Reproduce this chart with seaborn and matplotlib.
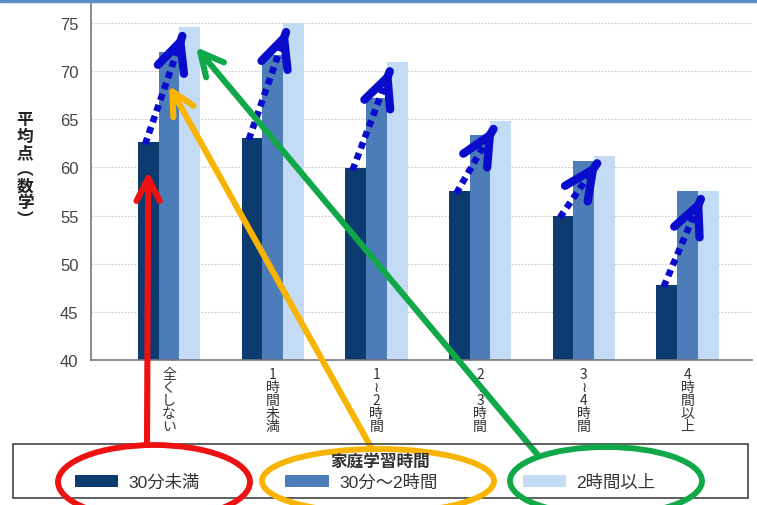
import matplotlib
matplotlib.use("Agg")
import matplotlib.pyplot as plt
import seaborn as sns
import pandas as pd
from matplotlib.patches import Ellipse, Rectangle, Patch
from matplotlib.lines import Line2D

# ---- data -------------------------------------------------------------
categories = ["全くしない", "1時間未満", "1〜2時間", "2〜3時間", "3〜4時間", "4時間以上"]
tick_labels = ["全\nく\nし\nな\nい", "1\n時\n間\n未\n満", "1\n≀\n2\n時\n間",
               "2\n≀\n3\n時\n間", "3\n≀\n4\n時\n間", "4\n時\n間\n以\n上"]
study_groups = ["30分未満", "30分〜2時間", "2時間以上"]
under_30min = [62.6, 63.1, 59.9, 57.5, 55.0, 47.8]
min30_to_2h = [72.0, 71.7, 67.2, 63.4, 60.7, 57.6]
over_2h = [74.6, 75.0, 70.9, 64.8, 61.2, 57.6]
y_ticks = [40, 45, 50, 55, 60, 65, 70, 75]

colors = ["#0b3b6f", "#4d7db8", "#c3dbf4"]
arrow_blue = "#0a0ccc"

df = pd.DataFrame({
    "category": categories * 3,
    "group": [g for g in study_groups for _ in categories],
    "score": under_30min + min30_to_2h + over_2h,
})

sns.set_theme(style="white")
plt.rcParams["font.family"] = ["Liberation Sans", "Noto Sans CJK JP", "DejaVu Sans"]
cjk_first = ["Noto Sans CJK JP", "Liberation Sans", "DejaVu Sans"]

W, H = 757, 506
fig = plt.figure(figsize=(W / 100, H / 100), dpi=100)
fig.patch.set_facecolor("white")
ax = fig.add_axes([91 / W, 145 / H, (752 - 91) / W, (503 - 145) / H])

sns.barplot(data=df, x="category", y="score", hue="group", order=categories,
            hue_order=study_groups, palette=colors, saturation=1, width=0.6,
            gap=0, errorbar=None, linewidth=0, legend=False, ax=ax)

ax.set_ylim(40, 77.18)
ax.set_xlim(-0.752, 5.622)
ax.set_yticks(y_ticks)
ax.set_yticklabels([str(t) for t in y_ticks], fontsize=12, color="#444444")
ax.set_xticks(range(len(categories)))
ax.set_xticklabels(tick_labels, fontsize=10, color="#333333", linespacing=0.9,
                   va="top", family=cjk_first)
ax.tick_params(axis="y", direction="in", length=7, width=1, color="#888888", pad=9)
ax.tick_params(axis="x", length=0, pad=5)
ax.set_xlabel("")
ax.set_ylabel("")
fig.text(25 / W, 1 - 170 / H, "平\n均\n点\n︵\n数\n学\n︶", fontsize=12,
         fontweight="bold", color="#222222", linespacing=0.9,
         va="center", ha="center", family=cjk_first)

ax.yaxis.grid(True, linestyle=(0, (1.5, 1.5)), color="#c8c8c8", lw=0.8)
ax.set_axisbelow(True)
for s in ["top", "right"]:
    ax.spines[s].set_visible(False)
for s in ["left", "bottom"]:
    ax.spines[s].set_color("#777777")
    ax.spines[s].set_linewidth(1.2)

# ---- legend -----------------------------------------------------------
fig.patches.append(Rectangle((13 / W, 7 / H), (748 - 13) / W, (499 - 445) / H,
                             transform=fig.transFigure, fill=False,
                             edgecolor="#444444", lw=1.2))
fig.text(380 / W, 1 - 462 / H, "家庭学習時間", fontsize=12, fontweight="bold",
         color="#333333", ha="center", va="center")
handles = [Patch(facecolor=c, edgecolor="none") for c in colors]
leg = fig.legend(handles, study_groups, loc="center left", ncol=3,
                 bbox_to_anchor=(75 / W, 1 - 483 / H), frameon=False,
                 fontsize=12.5, handlelength=2.5, handleheight=0.65,
                 handletextpad=0.6, columnspacing=4.9, borderpad=0,
                 borderaxespad=0)
for t in leg.get_texts():
    t.set_color("#333333")

# ---- trend arrows within each group -----------------------------------
for i in range(len(categories)):
    x0, y0 = i - 0.23, under_30min[i] - 0.2
    x1, y1 = i + 0.14, over_2h[i] - 0.6
    frac = 0.86
    ax.plot([x0, x0 + frac * (x1 - x0)], [y0, y0 + frac * (y1 - y0)],
            color=arrow_blue, lw=4.8, linestyle=(0, (1, 0.75)),
            dash_capstyle="butt", solid_capstyle="butt")
    ax.annotate("", xy=(x1, y1),
                xytext=(x1 - 0.03 * (x1 - x0), y1 - 0.03 * (y1 - y0)),
                arrowprops=dict(arrowstyle="->,head_length=0.95,head_width=0.45",
                                color=arrow_blue, lw=6, mutation_scale=22,
                                shrinkA=0, shrinkB=0, capstyle="round",
                                joinstyle="round"))

# ---- callouts from the legend to the first group ----------------------
callouts = [
    ("#ee1111", (-0.2, 59.6), (147, H - 446)),
    ("#f8b400", (0.0, 68.5), (372, H - 450)),
    ("#10a848", (0.26, 72.5), (537, H - 455)),
]
for col, tip, tail in callouts:
    ax.annotate("", xy=tip, xycoords="data", xytext=tail,
                textcoords="figure pixels",
                arrowprops=dict(arrowstyle="->,head_length=0.75,head_width=0.38",
                                color=col, lw=4.4, mutation_scale=22,
                                shrinkA=0, shrinkB=0, capstyle="round",
                                joinstyle="round"))

for col, cx, cy, w, h in [("#ee1111", 154, 483, 192, 74),
                          ("#f8b400", 378, 482, 232, 64),
                          ("#10a848", 606, 482, 192, 68)]:
    fig.patches.append(Ellipse((cx / W, (H - cy) / H), w / W, h / H,
                               transform=fig.transFigure, fill=False,
                               edgecolor=col, lw=4.2))

# thin frame line along the top edge
fig.lines.append(Line2D([0, 1], [1 - 1.5 / H, 1 - 1.5 / H],
                        transform=fig.transFigure, color="#5b8ec8", lw=2.5))

fig.savefig("out.png", dpi=100)
